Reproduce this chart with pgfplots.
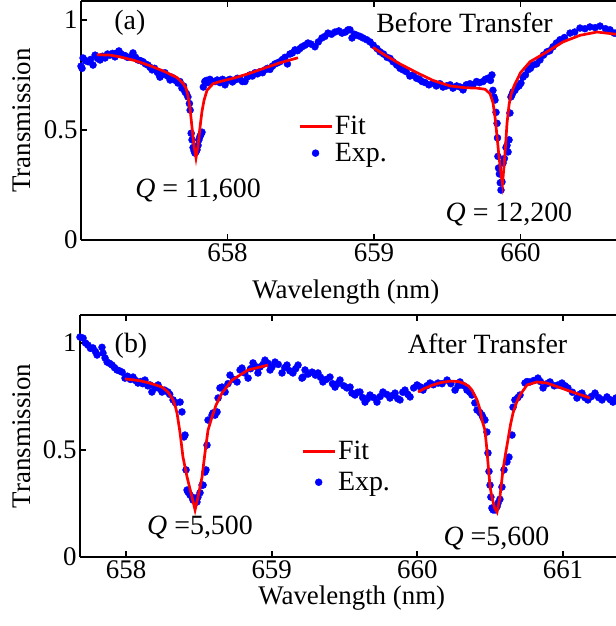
\documentclass[border=0pt]{standalone}
\usepackage{fontspec}
\setmainfont{Liberation Serif}
\setsansfont{Liberation Serif}
\usepackage{pgfplots}
\usepackage{pgfplotstable}
\pgfplotsset{compat=1.18}

% (a) before transfer: measured points
\pgfplotstableread{
x y
657.000 0.790
657.007 0.780
657.014 0.827
657.030 0.815
657.048 0.810
657.065 0.820
657.082 0.795
657.096 0.840
657.113 0.825
657.130 0.818
657.147 0.835
657.164 0.827
657.181 0.845
657.198 0.840
657.215 0.848
657.232 0.832
657.245 0.850
657.259 0.859
657.273 0.845
657.287 0.840
657.300 0.838
657.317 0.830
657.334 0.832
657.355 0.850
657.372 0.830
657.389 0.818
657.406 0.815
657.423 0.810
657.440 0.800
657.457 0.795
657.471 0.785
657.485 0.773
657.502 0.780
657.519 0.764
657.530 0.755
657.539 0.740
657.556 0.752
657.573 0.760
657.590 0.745
657.608 0.727
657.618 0.740
657.628 0.736
657.645 0.725
657.662 0.713
657.675 0.720
657.689 0.690
657.700 0.700
657.710 0.673
657.720 0.665
657.730 0.650
657.740 0.620
657.745 0.590
657.752 0.485
657.758 0.455
657.765 0.420
657.772 0.405
657.778 0.395
657.785 0.400
657.792 0.410
657.799 0.430
657.805 0.455
657.812 0.470
657.819 0.480
657.826 0.490
657.835 0.695
657.845 0.720
657.855 0.725
657.866 0.715
657.880 0.730
657.895 0.722
657.915 0.720
657.930 0.727
657.949 0.715
657.966 0.730
657.983 0.705
658.000 0.725
658.017 0.730
658.034 0.718
658.051 0.727
658.068 0.735
658.085 0.730
658.102 0.720
658.119 0.720
658.136 0.740
658.153 0.750
658.170 0.745
658.188 0.760
658.205 0.755
658.222 0.765
658.239 0.760
658.256 0.773
658.273 0.780
658.290 0.775
658.307 0.790
658.324 0.800
658.341 0.805
658.358 0.810
658.375 0.820
658.392 0.830
658.409 0.800
658.426 0.845
658.443 0.850
658.461 0.864
658.478 0.860
658.495 0.870
658.509 0.878
658.529 0.885
658.549 0.895
658.570 0.890
658.597 0.878
658.620 0.900
658.645 0.918
658.665 0.925
658.686 0.940
658.710 0.935
658.734 0.945
658.760 0.950
658.782 0.940
658.805 0.945
658.823 0.955
658.836 0.955
658.850 0.918
658.866 0.935
658.884 0.930
658.905 0.925
658.925 0.918
658.950 0.910
658.973 0.900
658.995 0.885
659.020 0.870
659.041 0.855
659.065 0.845
659.089 0.830
659.110 0.825
659.130 0.810
659.155 0.795
659.178 0.780
659.198 0.773
659.220 0.765
659.245 0.745
659.266 0.750
659.290 0.735
659.310 0.730
659.328 0.720
659.350 0.715
659.375 0.705
659.403 0.713
659.425 0.700
659.450 0.710
659.471 0.695
659.495 0.700
659.520 0.705
659.539 0.690
659.565 0.700
659.588 0.695
659.608 0.682
659.630 0.705
659.655 0.710
659.676 0.705
659.700 0.720
659.720 0.715
659.744 0.720
659.760 0.730
659.778 0.735
659.795 0.725
659.805 0.750
659.812 0.680
659.819 0.650
659.826 0.636
659.833 0.580
659.840 0.530
659.843 0.464
659.846 0.380
659.850 0.327
659.856 0.300
659.862 0.260
659.867 0.227
659.874 0.264
659.881 0.350
659.890 0.370
659.901 0.420
659.908 0.430
659.915 0.400
659.922 0.455
659.928 0.577
659.935 0.650
659.942 0.660
659.949 0.673
659.962 0.680
659.976 0.695
659.990 0.700
660.003 0.713
660.017 0.740
660.034 0.750
660.051 0.773
660.068 0.780
660.085 0.795
660.110 0.800
660.133 0.818
660.157 0.840
660.181 0.855
660.200 0.860
660.222 0.878
660.245 0.895
660.270 0.910
660.300 0.920
660.338 0.940
660.370 0.945
660.406 0.963
660.440 0.960
660.474 0.968
660.510 0.965
660.543 0.972
660.580 0.960
660.611 0.955
660.640 0.940
660.652 0.940
}\expA

% (a) fits around the two dips
\pgfplotstableread{
x y
657.109 0.842
657.200 0.840
657.266 0.832
657.369 0.815
657.471 0.792
657.573 0.765
657.655 0.738
657.696 0.712
657.717 0.690
657.730 0.655
657.744 0.600
657.758 0.510
657.771 0.430
657.785 0.373
657.799 0.430
657.812 0.510
657.826 0.585
657.840 0.635
657.860 0.680
657.901 0.710
657.949 0.720
658.051 0.737
658.154 0.758
658.256 0.782
658.358 0.805
658.481 0.828
}\fitAone

\pgfplotstableread{
x y
658.993 0.875
659.075 0.840
659.178 0.800
659.294 0.760
659.403 0.725
659.519 0.700
659.621 0.692
659.703 0.690
659.758 0.685
659.792 0.665
659.812 0.625
659.826 0.560
659.840 0.470
659.853 0.380
659.867 0.300
659.877 0.255
659.887 0.330
659.898 0.430
659.908 0.530
659.922 0.615
659.935 0.660
659.956 0.700
660.000 0.760
660.065 0.810
660.181 0.855
660.290 0.900
660.406 0.930
660.522 0.945
660.652 0.935
}\fitAtwo

% (b) after transfer: measured points
\pgfplotstableread{
x y
657.684 1.028
657.705 1.023
657.722 1.000
657.739 0.990
657.756 0.975
657.773 0.977
657.790 0.960
657.801 0.944
657.835 0.980
657.842 0.953
657.856 0.930
657.870 0.911
657.887 0.905
657.904 0.897
657.921 0.885
657.938 0.874
657.955 0.870
657.973 0.864
657.993 0.836
658.010 0.845
658.030 0.830
658.048 0.841
658.065 0.825
658.082 0.813
658.100 0.820
658.115 0.810
658.130 0.827
658.150 0.800
658.165 0.804
658.178 0.771
658.200 0.790
658.220 0.804
658.235 0.785
658.247 0.771
658.265 0.780
658.288 0.771
658.300 0.760
658.323 0.734
658.340 0.720
658.371 0.724
658.384 0.678
658.398 0.561
658.405 0.570
658.412 0.407
658.419 0.313
658.425 0.304
658.439 0.290
658.453 0.280
658.460 0.266
658.474 0.270
658.487 0.257
658.494 0.280
658.508 0.300
658.522 0.336
658.529 0.336
658.542 0.397
658.549 0.407
658.556 0.523
658.563 0.640
658.590 0.663
658.597 0.673
658.611 0.663
658.625 0.678
658.632 0.743
658.645 0.790
658.659 0.794
658.680 0.771
658.700 0.810
658.714 0.850
658.740 0.830
658.762 0.818
658.783 0.874
658.796 0.883
658.815 0.860
658.838 0.836
658.855 0.880
658.872 0.907
658.890 0.890
658.906 0.860
658.920 0.888
658.940 0.900
658.954 0.920
658.975 0.905
658.989 0.874
659.002 0.888
659.023 0.911
659.045 0.900
659.071 0.860
659.090 0.885
659.105 0.897
659.125 0.870
659.146 0.860
659.165 0.880
659.181 0.897
659.208 0.836
659.215 0.841
659.229 0.874
659.250 0.855
659.277 0.864
659.300 0.850
659.318 0.860
659.335 0.840
659.352 0.818
659.375 0.830
659.400 0.841
659.418 0.810
659.435 0.794
659.452 0.810
659.469 0.827
659.495 0.800
659.517 0.790
659.538 0.794
659.551 0.766
659.572 0.757
659.590 0.770
659.606 0.771
659.625 0.745
659.641 0.724
659.658 0.740
659.675 0.757
659.700 0.745
659.723 0.724
659.745 0.750
659.764 0.771
659.790 0.760
659.812 0.743
659.830 0.755
659.847 0.766
659.865 0.740
659.881 0.734
659.900 0.770
659.915 0.780
659.935 0.760
659.950 0.748
659.975 0.790
659.998 0.804
660.020 0.795
660.039 0.780
660.065 0.800
660.087 0.813
660.110 0.805
660.142 0.813
660.170 0.810
660.204 0.827
660.230 0.810
660.259 0.780
660.280 0.800
660.293 0.818
660.320 0.800
660.341 0.780
660.360 0.770
660.375 0.757
660.395 0.720
660.410 0.687
660.430 0.675
660.444 0.663
660.452 0.650
660.464 0.640
660.478 0.584
660.485 0.486
660.492 0.400
660.499 0.336
660.505 0.280
660.512 0.229
660.520 0.220
660.533 0.220
660.547 0.235
660.554 0.252
660.567 0.270
660.581 0.327
660.595 0.407
660.615 0.444
660.629 0.467
660.650 0.570
660.657 0.700
660.670 0.734
660.690 0.745
660.705 0.757
660.739 0.813
660.753 0.820
660.773 0.818
660.800 0.825
660.828 0.836
660.845 0.820
660.863 0.790
660.890 0.810
660.911 0.818
660.940 0.800
660.966 0.804
660.993 0.813
661.015 0.800
661.034 0.790
661.065 0.770
661.096 0.743
661.115 0.760
661.130 0.766
661.150 0.745
661.171 0.734
661.195 0.750
661.220 0.766
661.245 0.745
661.268 0.734
661.302 0.748
661.325 0.735
661.343 0.724
661.364 0.743
}\expB

% (b) fits
\pgfplotstableread{
x y
657.993 0.832
658.050 0.828
658.100 0.823
658.150 0.815
658.200 0.805
658.247 0.794
658.288 0.771
658.323 0.734
658.340 0.700
658.350 0.673
658.371 0.580
658.391 0.467
658.419 0.374
658.453 0.280
658.474 0.220
658.494 0.280
658.522 0.374
658.542 0.486
658.563 0.593
658.590 0.654
658.618 0.710
658.645 0.748
658.659 0.766
658.728 0.827
658.838 0.874
658.975 0.897
}\fitBone

\pgfplotstableread{
x y
660.005 0.771
660.050 0.788
660.108 0.804
660.160 0.815
660.224 0.822
660.280 0.820
660.313 0.813
660.350 0.800
660.375 0.780
660.410 0.734
660.430 0.690
660.444 0.640
660.464 0.593
660.478 0.500
660.485 0.440
660.499 0.330
660.512 0.280
660.530 0.230
660.547 0.210
660.567 0.280
660.588 0.407
660.605 0.480
660.622 0.547
660.640 0.620
660.657 0.673
660.680 0.720
660.705 0.757
660.753 0.804
660.821 0.818
660.890 0.813
661.027 0.780
661.185 0.743
}\fitBtwo

\pgfplotsset{
  trans/.style={
    scale only axis,
    anchor=south west,
    axis x line*=box, axis y line*=left,
    tick align=inside,
    major tick length=6bp,
    axis line style={line width=1.8bp},
    major tick style={line width=1.8bp, black},
    ymin=0, ytick={0,0.5,1},
    /pgf/number format/assume math mode=true,
    tick label style={font=\rmfamily\fontsize{27}{30}\selectfont},
    label style={font=\rmfamily\fontsize{27}{30}\selectfont},
    ylabel={Transmission},
    xlabel={Wavelength (nm)},
    clip=false,
    clip marker paths=true,
    reverse legend,
    legend cell align=left,
    legend image code/.code={\draw[mark repeat=2,mark phase=2,##1] plot coordinates {(0bp,0bp) (16bp,0bp) (32bp,0bp)};},
    legend style={draw=none, fill=none, anchor=north west,
      font=\rmfamily\fontsize{28}{30}\selectfont},
  },
  fitline/.style={red, line width=2.7bp, no markers},
  expdots/.style={only marks, mark=*, mark size=3.5bp, draw=blue, fill=blue},
}
\tikzset{ann/.style={anchor=base, font=\rmfamily\fontsize{28}{30}\selectfont}}

\begin{document}
\begin{tikzpicture}
\path[use as bounding box] (0,0) rectangle (616bp,626bp);

\begin{axis}[trans,
    at={(81bp,386bp)}, width=535bp, height=239bp,
    xmin=657, xmax=660.652, ymax=1.086,
    xtick={658,659,660},
    ylabel style={at={(axis description cs:-0.110,0.5)}, anchor=center},
    xlabel style={at={(axis description cs:0.495,-0.243)}, anchor=base},
    legend style={at={(0.40,0.535)}, row sep=3bp},
]
\addplot[expdots] table {\expA};
\addlegendentry{Exp.}
\addplot[fitline] table {\fitAone};
\addlegendentry{Fit}
\addplot[fitline, forget plot] table {\fitAtwo};
\node[ann] at (axis cs:657.334,0.955) {(a)};
\node[ann] at (axis cs:659.618,0.945) {Before Transfer};
\node[ann] at (axis cs:657.799,0.195) {\textit{Q} = 11,600};
\node[ann] at (axis cs:659.921,0.082) {\textit{Q} = 12,200};
\end{axis}

\begin{axis}[trans,
    at={(80bp,69bp)}, width=536bp, height=242bp,
    xmin=657.684, xmax=661.364, ymax=1.131,
    xtick={658,659,660,661},
    ylabel style={at={(axis description cs:-0.108,0.5)}, anchor=center},
    xlabel style={at={(axis description cs:0.507,-0.198)}, anchor=base},
    legend style={at={(0.407,0.495)}, row sep=7bp},
]
\addplot[expdots] table {\expB};
\addlegendentry{Exp.}
\addplot[fitline] table {\fitBone};
\addlegendentry{Fit}
\addplot[fitline, forget plot] table {\fitBtwo};
\node[ann] at (axis cs:658.034,0.958) {(b)};
\node[ann] at (axis cs:660.482,0.953) {After Transfer};
\node[ann] at (axis cs:658.508,0.103) {\textit{Q} =5,500};
\node[ann] at (axis cs:660.543,0.056) {\textit{Q} =5,600};
\end{axis}
\end{tikzpicture}
\end{document}
